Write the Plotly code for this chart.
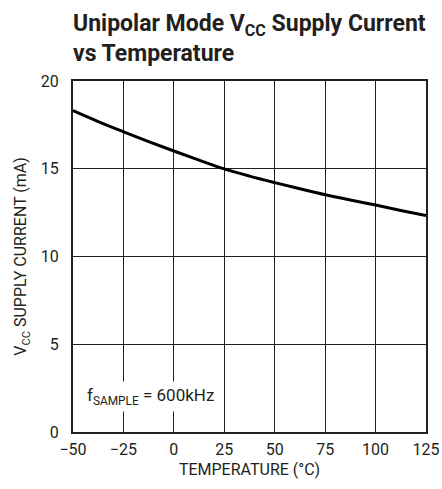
import plotly.graph_objects as go

temps = [-50, -37.5, -25, -12.5, 0, 12.5, 25, 37.5, 50, 62.5, 75, 87.5, 100, 112.5, 125]
current = [18.31, 17.69, 17.11, 16.55, 16.01, 15.49, 14.99, 14.58, 14.21, 13.86, 13.52, 13.22, 12.93, 12.62, 12.33]
x_ticks = [-50, -25, 0, 25, 50, 75, 100, 125]
x_ticktext = ["−50", "−25", "0", "25", "50", "75", "100", "125"]
y_ticks = [0, 5, 10, 15, 20]

FONT = "Roboto, Liberation Sans, Arial"
INK = "#231f20"

fig = go.Figure()
fig.add_trace(go.Scatter(x=temps, y=current, mode="lines",
                         line=dict(color="black", width=3, shape="spline"),
                         hoverinfo="skip", showlegend=False))

fig.update_layout(
    width=442, height=489,
    margin=dict(l=73, r=16, t=81, b=57, autoexpand=False),
    paper_bgcolor="white", plot_bgcolor="white",
    font=dict(family=FONT, size=16, color=INK),
    xaxis=dict(range=[-50, 125], tickvals=x_ticks, ticktext=x_ticktext,
               showgrid=True, gridcolor=INK, gridwidth=1,
               showline=True, linecolor=INK, linewidth=2, mirror=True,
               zeroline=False, ticks="", ticklen=0, ticklabelstandoff=2,
               ticklabeloverflow="allow",
               title=dict(text="TEMPERATURE (°C)", font=dict(size=16), standoff=6)),
    yaxis=dict(range=[0, 20], tickvals=y_ticks,
               showgrid=True, gridcolor=INK, gridwidth=1,
               showline=True, linecolor=INK, linewidth=2, mirror=True,
               zeroline=False, ticks="", ticklen=0, ticklabelstandoff=9,
               title=dict(text="V<sub>CC</sub> SUPPLY CURRENT (mA)", font=dict(size=16), standoff=10)),
    annotations=[
        dict(text="<b>Unipolar Mode V<sub>CC</sub> Supply Current<br>vs Temperature</b>",
             xref="paper", yref="paper", x=-0.005, y=1.0, yshift=12,
             xanchor="left", yanchor="bottom", align="left", showarrow=False,
             font=dict(family=FONT, size=23, color=INK)),
        dict(text="f<sub>SAMPLE</sub> = 600kHz",
             xref="x", yref="y", x=-45, y=2.0, xanchor="left", yanchor="middle",
             showarrow=False, bgcolor="white", borderpad=3,
             font=dict(family=FONT, size=17, color=INK)),
    ],
)

fig.write_html("out.html", config={"displayModeBar": False},
               post_script="document.body.style.margin='0';document.body.style.overflow='hidden';")
